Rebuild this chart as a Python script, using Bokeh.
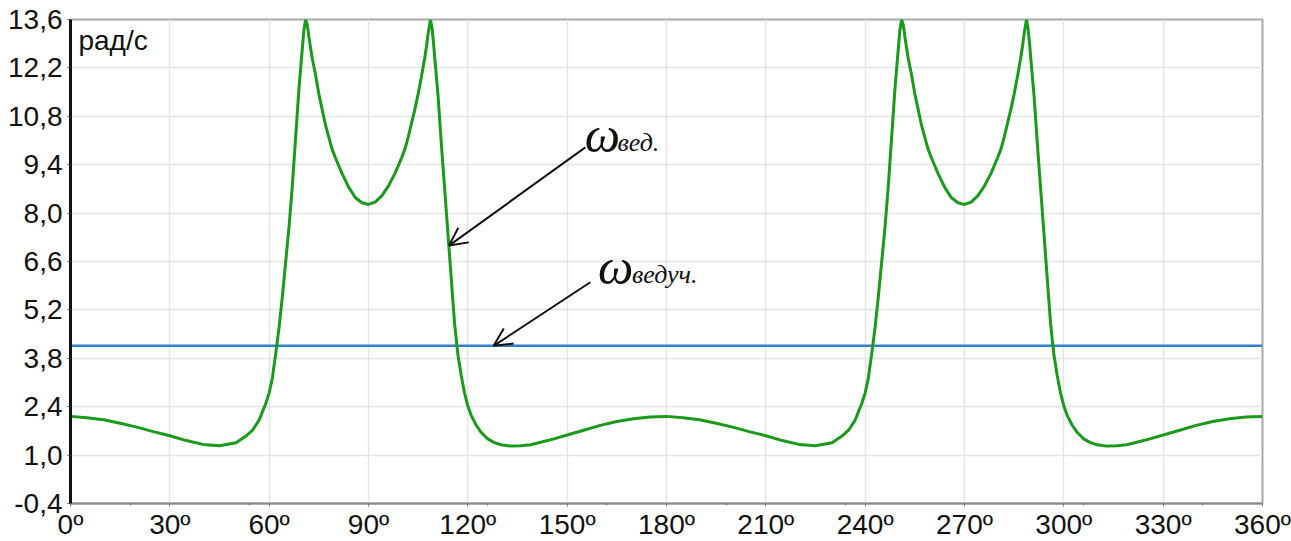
from bokeh.plotting import figure
from bokeh.models import Range1d, FixedTicker, CustomJSTickFormatter, Arrow, OpenHead, Label
from bokeh.embed import file_html
from bokeh.resources import INLINE

# angle of the crank, degrees
angle = [0, 5, 10, 15, 20, 25, 30, 35, 40, 45, 50, 53, 55, 57, 59, 60, 61, 62, 63, 64, 65, 66, 67, 68, 69, 70,
         70.5, 71, 71.5, 72, 72.5, 73, 74, 75, 76, 77, 78, 79, 80, 82, 84, 86, 88, 90, 92, 94, 96, 98, 100, 101,
         102, 103, 104, 105, 106, 107, 107.5, 108, 108.7, 109.2, 109.7, 110, 111, 112, 113, 114, 115, 116, 117,
         118, 119, 120, 121, 122.5, 124, 126, 128, 130, 133, 136, 139, 142, 146, 150, 155, 160, 165, 170, 175,
         180, 185, 190, 195, 200, 205, 210, 215, 220, 225, 230, 233, 235, 237, 239, 240, 241, 242, 243, 244, 245,
         246, 247, 248, 249, 250, 250.5, 251, 251.5, 252, 252.5, 253, 254, 255, 256, 257, 258, 259, 260, 262,
         264, 266, 268, 270, 272, 274, 276, 278, 280, 281, 282, 283, 284, 285, 286, 287, 287.5, 288, 288.7,
         289.2, 289.7, 290, 291, 292, 293, 294, 295, 296, 297, 298, 299, 300, 301, 302.5, 304, 306, 308, 310,
         313, 316, 319, 322, 326, 330, 335, 340, 345, 350, 355, 360]

# angular velocity of the driven link, rad/s
omega_driven = [2.12, 2.08, 2.02, 1.92, 1.81, 1.68, 1.56, 1.42, 1.31, 1.27, 1.36, 1.55, 1.72, 2.02, 2.5, 2.8,
                3.25, 3.95, 4.7, 5.6, 6.6, 7.6, 8.8, 10.2, 11.6, 12.75, 13.3, 13.6, 13.45, 13.1, 12.78, 12.48,
                12.0, 11.45, 11.0, 10.55, 10.2, 9.85, 9.6, 9.15, 8.75, 8.45, 8.3, 8.25, 8.32, 8.5, 8.78, 9.15, 9.6,
                9.85, 10.2, 10.6, 11.0, 11.45, 11.95, 12.5, 12.82, 13.18, 13.6, 13.35, 12.85, 12.5, 11.4, 10.0,
                8.7, 7.4, 6.1, 4.8, 3.9, 3.3, 2.8, 2.42, 2.15, 1.87, 1.66, 1.47, 1.36, 1.3, 1.26, 1.27, 1.3, 1.37,
                1.47, 1.58, 1.72, 1.86, 1.97, 2.05, 2.1,
                2.12, 2.08, 2.02, 1.92, 1.81, 1.68, 1.56, 1.42, 1.31, 1.27, 1.36, 1.55, 1.72, 2.02, 2.5, 2.8,
                3.25, 3.95, 4.7, 5.6, 6.6, 7.6, 8.8, 10.2, 11.6, 12.75, 13.3, 13.6, 13.45, 13.1, 12.78, 12.48,
                12.0, 11.45, 11.0, 10.55, 10.2, 9.85, 9.6, 9.15, 8.75, 8.45, 8.3, 8.25, 8.32, 8.5, 8.78, 9.15, 9.6,
                9.85, 10.2, 10.6, 11.0, 11.45, 11.95, 12.5, 12.82, 13.18, 13.6, 13.35, 12.85, 12.5, 11.4, 10.0,
                8.7, 7.4, 6.1, 4.8, 3.9, 3.3, 2.8, 2.42, 2.15, 1.87, 1.66, 1.47, 1.36, 1.3, 1.26, 1.27, 1.3, 1.37,
                1.47, 1.58, 1.72, 1.86, 1.97, 2.05, 2.1, 2.12]

# angular velocity of the driving link (constant), rad/s
angle_driving = [0, 360]
omega_driving = [4.16, 4.16]

x_ticks = [0, 30, 60, 90, 120, 150, 180, 210, 240, 270, 300, 330, 360]
x_minor = [18, 54, 126, 162, 198, 234, 270, 306, 342]
y_ticks = [-0.4, 1.0, 2.4, 3.8, 5.2, 6.6, 8.0, 9.4, 10.8, 12.2, 13.6]

label_driven_sym = "ω"
label_driven_sub = "вед."
label_driving_sub = "ведуч."
units_label = "рад/с"

p = figure(frame_width=1192, frame_height=484, output_backend="svg", toolbar_location=None,
           x_range=Range1d(0, 360), y_range=Range1d(-0.4, 13.6),
           min_border_left=70, min_border_top=19, min_border_right=29, min_border_bottom=36)
p.background_fill_color = "white"
p.border_fill_color = "white"
p.outline_line_color = "#a8a8a8"
p.outline_line_width = 2

FONT = "Liberation Sans"
for ax in (p.xaxis[0], p.yaxis[0]):
    ax.major_label_text_font = FONT
    ax.major_label_text_font_size = "28px"
    ax.major_label_text_color = "#111111"
    ax.minor_tick_line_color = "#777777"

p.xaxis.ticker = FixedTicker(ticks=x_ticks, minor_ticks=x_minor)
p.xaxis.formatter = CustomJSTickFormatter(code="return tick.toFixed(0) + 'º';")
p.xaxis.axis_line_color = "#8c8c8c"
p.xaxis.axis_line_width = 2
p.xaxis.major_tick_line_color = "#777777"
p.xaxis.major_tick_in = 0
p.xaxis.major_tick_out = 3
p.xaxis.minor_tick_in = 0
p.xaxis.minor_tick_out = 2
p.xaxis.major_label_standoff = 2

p.yaxis.ticker = FixedTicker(ticks=y_ticks, minor_ticks=[])
p.yaxis.formatter = CustomJSTickFormatter(code="return tick.toFixed(1).replace('.', ',');")
p.yaxis.axis_line_color = "#111111"
p.yaxis.axis_line_width = 3
p.yaxis.major_tick_line_color = "#555555"
p.yaxis.major_tick_in = 0
p.yaxis.major_tick_out = 3
p.yaxis.major_label_standoff = 5

p.xgrid.grid_line_color = "#e4e4e4"
p.ygrid.grid_line_color = "#e4e4e4"
p.xgrid.grid_line_width = 1.5
p.ygrid.grid_line_width = 1.5

p.line(angle_driving, omega_driving, line_color="#2f7fcf", line_width=2.5)
p.line(angle, omega_driven, line_color="#1a9a1a", line_width=3)

# annotations
p.add_layout(Arrow(end=OpenHead(size=18, line_width=2, line_color="#111111"),
                   x_start=155.5, y_start=9.9, x_end=114.3, y_end=7.06,
                   line_width=2, line_color="#111111"))
p.add_layout(Arrow(end=OpenHead(size=18, line_width=2, line_color="#111111"),
                   x_start=157.0, y_start=6.0, x_end=127.8, y_end=4.16,
                   line_width=2, line_color="#111111"))

SERIF = "Liberation Serif"
p.add_layout(Label(x=155.3, y=10.25, text=label_driven_sym, text_font=SERIF, text_font_style="italic",
                   text_font_size="50px", text_baseline="alphabetic", text_color="#111111"))
p.add_layout(Label(x=165.2, y=10.05, text=label_driven_sub, text_font=SERIF, text_font_style="italic",
                   text_font_size="26px", text_baseline="alphabetic", text_color="#111111"))
p.add_layout(Label(x=159.3, y=6.43, text=label_driven_sym, text_font=SERIF, text_font_style="italic",
                   text_font_size="50px", text_baseline="alphabetic", text_color="#111111"))
p.add_layout(Label(x=169.6, y=6.23, text=label_driving_sub, text_font=SERIF, text_font_style="italic",
                   text_font_size="26px", text_baseline="alphabetic", text_color="#111111"))

p.add_layout(Label(x=2.4, y=12.98, text=units_label, text_font=FONT, text_font_size="28px",
                   text_baseline="alphabetic", text_color="#111111"))

open("out.html", "w").write(file_html(p, INLINE))
